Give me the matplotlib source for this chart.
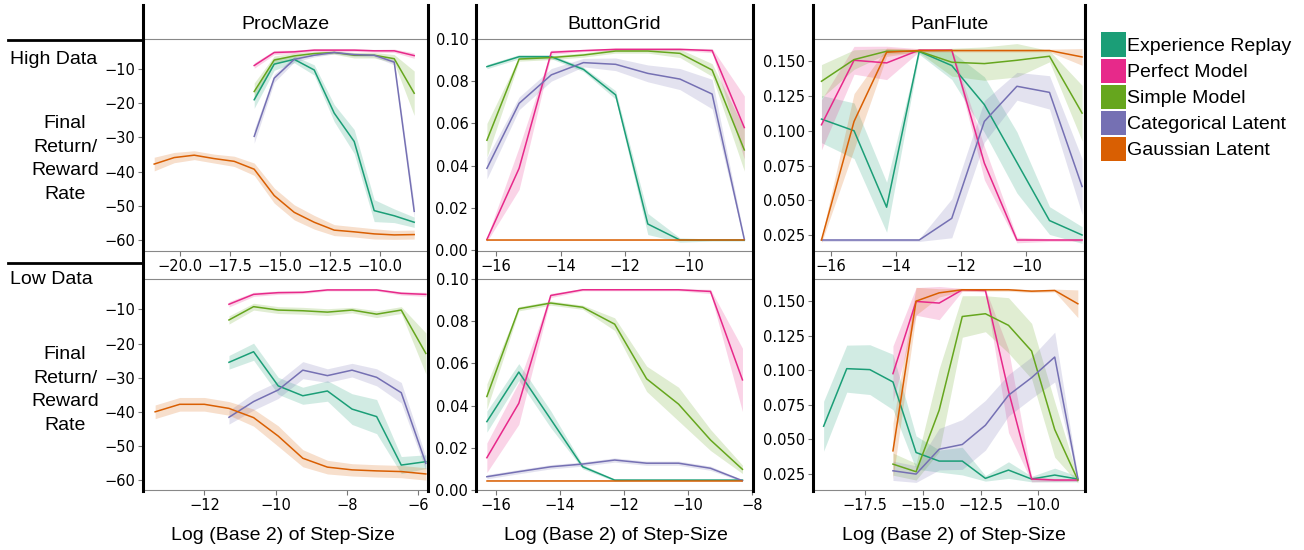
import matplotlib.pyplot as plt
from matplotlib.lines import Line2D
from matplotlib.patches import Patch, Rectangle
from matplotlib.legend_handler import HandlerPatch

# series names and colours (Dark2)
series = ["Experience Replay", "Perfect Model", "Simple Model",
          "Categorical Latent", "Gaussian Latent"]
colors = ["#1b9e77", "#e7298a", "#66a61e", "#7570b3", "#d95f02"]
envs = ["ProcMaze", "ButtonGrid", "PanFlute"]
rows = ["High Data", "Low Data"]

# x positions (log2 of step-size)
x_std = [-16.29, -15.29, -14.29, -13.29, -12.29, -11.29, -10.29, -9.29, -8.29]
x_maze_hi_gl = [-21.29, -20.29, -19.29, -18.29, -17.29, -16.29, -15.29,
                -14.29, -13.29, -12.29, -11.29, -10.29, -9.29, -8.29]
x_maze_lo_gl = [-13.38, -12.69, -12.0, -11.31, -10.62, -9.93, -9.24,
                -8.55, -7.86, -7.17, -6.48, -5.79]
x_maze_lo = [-11.31, -10.62, -9.93, -9.24, -8.55, -7.86, -7.17, -6.48, -5.79]
x_flute_lo_er = [-19.29, -18.29, -17.29, -16.29, -15.29, -14.29, -13.29,
                 -12.29, -11.29, -10.29, -9.29, -8.29]

# ProcMaze, high data
maze_hi_er = [-19.0, -8.6, -7.2, -10.3, -22.9, -31.2, -51.4, -52.9, -54.8]
maze_hi_pm = [-9.0, -5.2, -5.0, -4.5, -4.5, -4.5, -4.7, -4.7, -6.1]
maze_hi_sm = [-16.6, -7.4, -6.2, -5.5, -5.2, -6.0, -6.0, -7.0, -17.1]
maze_hi_cl = [-29.7, -12.7, -7.2, -6.0, -5.2, -5.8, -6.0, -8.0, -51.6]
maze_hi_gl = [-37.8, -35.9, -35.2, -36.2, -37.0, -39.3, -47.0, -51.9,
              -54.8, -57.1, -57.6, -58.2, -58.5, -58.4]
maze_hi_er_ci = [2.5, 1.8, 1.0, 1.5, 2.5, 3.5, 3.2, 2.0, 1.5]
maze_hi_pm_ci = [0.8, 0.6, 0.5, 0.4, 0.4, 0.4, 0.4, 0.5, 0.8]
maze_hi_sm_ci = [2.5, 1.2, 0.8, 0.5, 0.5, 0.8, 0.8, 1.2, 6.5]
maze_hi_cl_ci = [2.0, 1.2, 0.8, 0.5, 0.4, 0.5, 0.5, 0.8, 2.0]
maze_hi_gl_ci = [2.0, 1.5, 1.3, 1.3, 1.5, 1.8, 2.2, 2.2, 2.0, 1.6, 1.5,
                 1.5, 1.3, 1.3]

# ProcMaze, low data
maze_lo_er = [-25.5, -22.4, -32.4, -35.3, -33.9, -39.2, -41.4, -55.6, -54.6]
maze_lo_pm = [-8.5, -5.6, -5.1, -5.0, -4.3, -4.3, -4.3, -5.3, -5.6]
maze_lo_sm = [-13.1, -9.2, -10.2, -10.4, -10.8, -10.2, -11.4, -10.2, -22.9]
maze_lo_cl = [-41.6, -37.0, -33.6, -27.8, -29.4, -27.8, -29.9, -34.4, -55.1]
maze_lo_gl = [-40.0, -37.8, -37.8, -39.0, -41.7, -47.1, -53.6, -56.2,
              -57.0, -57.3, -57.5, -58.2]
maze_lo_er_ci = [2.0, 2.5, 2.5, 2.5, 3.0, 4.5, 5.0, 2.5, 2.0]
maze_lo_pm_ci = [0.8, 0.6, 0.5, 0.4, 0.3, 0.3, 0.3, 0.5, 0.6]
maze_lo_sm_ci = [1.2, 1.0, 1.0, 1.0, 1.0, 0.8, 1.0, 1.0, 6.0]
maze_lo_cl_ci = [2.0, 2.5, 2.5, 2.5, 2.0, 2.0, 2.5, 3.0, 2.0]
maze_lo_gl_ci = [2.0, 2.0, 2.0, 2.0, 2.5, 3.0, 2.5, 2.0, 1.8, 1.8, 1.8, 1.8]

# ButtonGrid, high data
grid_hi_er = [0.0869, 0.0916, 0.0916, 0.0856, 0.0735, 0.0123, 0.0047, 0.0047, 0.0047]
grid_hi_pm = [0.0050, 0.0387, 0.0937, 0.0945, 0.0951, 0.0951, 0.0951, 0.0945, 0.0580]
grid_hi_sm = [0.0520, 0.0905, 0.0912, 0.0924, 0.0943, 0.0943, 0.0932, 0.0853, 0.0474]
grid_hi_cl = [0.0387, 0.0695, 0.0830, 0.0888, 0.0880, 0.0837, 0.0810, 0.0739, 0.0050]
grid_hi_gl = [0.0045] * 9
grid_hi_er_ci = [0.001, 0.001, 0.001, 0.001, 0.002, 0.005, 0.001, 0.0005, 0.0005]
grid_hi_pm_ci = [0.001, 0.010, 0.001, 0.0005, 0.0005, 0.0005, 0.0005, 0.001, 0.015]
grid_hi_sm_ci = [0.008, 0.001, 0.001, 0.001, 0.001, 0.001, 0.002, 0.003, 0.010]
grid_hi_cl_ci = [0.005, 0.003, 0.003, 0.002, 0.003, 0.004, 0.005, 0.007, 0.001]
grid_hi_gl_ci = [0.0003] * 9

# ButtonGrid, low data
grid_lo_er = [0.0324, 0.0559, 0.0335, 0.0110, 0.0047, 0.0047, 0.0047, 0.0047, 0.0047]
grid_lo_pm = [0.0153, 0.0411, 0.0922, 0.0949, 0.0949, 0.0949, 0.0949, 0.0941, 0.0522]
grid_lo_sm = [0.0443, 0.0859, 0.0886, 0.0866, 0.0786, 0.0527, 0.0407, 0.0237, 0.0098]
grid_lo_cl = [0.0063, 0.0087, 0.0110, 0.0123, 0.0142, 0.0127, 0.0127, 0.0103, 0.0044]
grid_lo_gl = [0.0044] * 9
grid_lo_er_ci = [0.005, 0.004, 0.004, 0.001, 0.0005, 0.0003, 0.0003, 0.0003, 0.0003]
grid_lo_pm_ci = [0.007, 0.010, 0.001, 0.0005, 0.0005, 0.0005, 0.0005, 0.001, 0.015]
grid_lo_sm_ci = [0.006, 0.001, 0.001, 0.001, 0.003, 0.006, 0.008, 0.005, 0.002]
grid_lo_cl_ci = [0.001, 0.001, 0.001, 0.001, 0.001, 0.001, 0.001, 0.001, 0.0005]
grid_lo_gl_ci = [0.0003] * 9

# PanFlute, high data
flute_hi_er = [0.1084, 0.1000, 0.0450, 0.1570, 0.1469, 0.1188, 0.0772, 0.0354, 0.0250]
flute_hi_pm = [0.1043, 0.1507, 0.1488, 0.1580, 0.1580, 0.0767, 0.0214, 0.0214, 0.0214]
flute_hi_sm = [0.1356, 0.1512, 0.1572, 0.1572, 0.1493, 0.1483, 0.1507, 0.1536, 0.1127]
flute_hi_cl = [0.0214, 0.0214, 0.0214, 0.0214, 0.0370, 0.1067, 0.1320, 0.1276, 0.0599]
flute_hi_gl = [0.0214, 0.1067, 0.1565, 0.1577, 0.1577, 0.1577, 0.1577, 0.1577, 0.1531]
flute_hi_er_ci = [0.017, 0.020, 0.018, 0.002, 0.010, 0.020, 0.022, 0.010, 0.006]
flute_hi_pm_ci = [0.018, 0.010, 0.012, 0.001, 0.001, 0.012, 0.002, 0.001, 0.001]
flute_hi_sm_ci = [0.012, 0.007, 0.002, 0.001, 0.010, 0.012, 0.012, 0.004, 0.020]
flute_hi_cl_ci = [0.001, 0.001, 0.001, 0.001, 0.014, 0.015, 0.010, 0.012, 0.020]
flute_hi_gl_ci = [0.002, 0.020, 0.003, 0.001, 0.001, 0.001, 0.001, 0.001, 0.006]

# PanFlute, low data
flute_lo_er = [0.0596, 0.1012, 0.1005, 0.0916, 0.0406, 0.0344, 0.0344, 0.0219,
               0.0279, 0.0214, 0.0243, 0.0214]
flute_lo_pm = [0.0976, 0.1498, 0.1486, 0.1582, 0.1577, 0.0850, 0.0214, 0.0207, 0.0207]
flute_lo_sm = [0.0322, 0.0267, 0.0712, 0.1389, 0.1409, 0.1325, 0.1139, 0.0572, 0.0207]
flute_lo_cl = [0.0274, 0.0250, 0.0430, 0.0464, 0.0603, 0.0820, 0.0947, 0.1096, 0.0219]
flute_lo_gl = [0.0418, 0.1500, 0.1560, 0.1582, 0.1582, 0.1582, 0.1572, 0.1577, 0.1481]
flute_lo_er_ci = [0.018, 0.017, 0.018, 0.020, 0.012, 0.008, 0.010, 0.002,
                  0.006, 0.002, 0.005, 0.002]
flute_lo_pm_ci = [0.020, 0.010, 0.012, 0.001, 0.001, 0.030, 0.002, 0.001, 0.001]
flute_lo_sm_ci = [0.008, 0.006, 0.030, 0.015, 0.013, 0.020, 0.020, 0.020, 0.002]
flute_lo_cl_ci = [0.007, 0.006, 0.015, 0.018, 0.018, 0.015, 0.015, 0.018, 0.002]
flute_lo_gl_ci = [0.020, 0.010, 0.003, 0.001, 0.001, 0.001, 0.001, 0.001, 0.010]

# (row, col) -> list of (x, mean, ci) in series order
panels = {
    (0, 0): [(x_std, maze_hi_er, maze_hi_er_ci), (x_std, maze_hi_pm, maze_hi_pm_ci),
             (x_std, maze_hi_sm, maze_hi_sm_ci), (x_std, maze_hi_cl, maze_hi_cl_ci),
             (x_maze_hi_gl, maze_hi_gl, maze_hi_gl_ci)],
    (1, 0): [(x_maze_lo, maze_lo_er, maze_lo_er_ci), (x_maze_lo, maze_lo_pm, maze_lo_pm_ci),
             (x_maze_lo, maze_lo_sm, maze_lo_sm_ci), (x_maze_lo, maze_lo_cl, maze_lo_cl_ci),
             (x_maze_lo_gl, maze_lo_gl, maze_lo_gl_ci)],
    (0, 1): [(x_std, grid_hi_er, grid_hi_er_ci), (x_std, grid_hi_pm, grid_hi_pm_ci),
             (x_std, grid_hi_sm, grid_hi_sm_ci), (x_std, grid_hi_cl, grid_hi_cl_ci),
             (x_std, grid_hi_gl, grid_hi_gl_ci)],
    (1, 1): [(x_std, grid_lo_er, grid_lo_er_ci), (x_std, grid_lo_pm, grid_lo_pm_ci),
             (x_std, grid_lo_sm, grid_lo_sm_ci), (x_std, grid_lo_cl, grid_lo_cl_ci),
             (x_std, grid_lo_gl, grid_lo_gl_ci)],
    (0, 2): [(x_std, flute_hi_er, flute_hi_er_ci), (x_std, flute_hi_pm, flute_hi_pm_ci),
             (x_std, flute_hi_sm, flute_hi_sm_ci), (x_std, flute_hi_cl, flute_hi_cl_ci),
             (x_std, flute_hi_gl, flute_hi_gl_ci)],
    (1, 2): [(x_flute_lo_er, flute_lo_er, flute_lo_er_ci), (x_std, flute_lo_pm, flute_lo_pm_ci),
             (x_std, flute_lo_sm, flute_lo_sm_ci), (x_std, flute_lo_cl, flute_lo_cl_ci),
             (x_std, flute_lo_gl, flute_lo_gl_ci)],
}

xlims = {(0, 0): (-21.85, -7.6), (1, 0): (-13.72, -5.73),
         (0, 1): (-16.63, -8.02), (1, 1): (-16.63, -7.96),
         (0, 2): (-16.55, -8.2), (1, 2): (-19.75, -7.98)}
ylims = {(0, 0): (-63.2, -1.25), (1, 0): (-62.9, -1.1),
         (0, 1): (-0.0005, 0.1), (1, 1): (0.0, 0.1),
         (0, 2): (0.0135, 0.166), (1, 2): (0.0135, 0.166)}
xticks = {(0, 0): [-20, -17.5, -15, -12.5, -10], (1, 0): [-12, -10, -8, -6],
          (0, 1): [-16, -14, -12, -10], (1, 1): [-16, -14, -12, -10, -8],
          (0, 2): [-16, -14, -12, -10], (1, 2): [-17.5, -15, -12.5, -10]}
yticks = {0: [-10, -20, -30, -40, -50, -60],
          1: [0.0, 0.02, 0.04, 0.06, 0.08, 0.10],
          2: [0.025, 0.05, 0.075, 0.1, 0.125, 0.15]}

W, H = 1304, 550
fig = plt.figure(figsize=(W / 100, H / 100), dpi=100)
SANS = "Liberation Sans"

col_px = [(143, 428), (476, 753), (813, 1085)]
row_px = [(39, 251), (279, 490)]

for (r, c), lines in panels.items():
    x0, x1 = col_px[c]
    y0, y1 = row_px[r]
    ax = fig.add_axes([x0 / W, 1 - y1 / H, (x1 - x0) / W, (y1 - y0) / H])
    for (xs, m, ci), col in zip(lines, colors):
        lo = [a - b for a, b in zip(m, ci)]
        hi = [a + b for a, b in zip(m, ci)]
        ax.fill_between(xs, lo, hi, color=col, alpha=0.2, lw=0)
        ax.plot(xs, m, color=col, lw=1.1)
    ax.set_xlim(*xlims[(r, c)])
    ax.set_ylim(*ylims[(r, c)])
    ax.set_xticks(xticks[(r, c)])
    ax.set_yticks(yticks[c])
    ax.tick_params(direction="out", length=3.5, width=0.8, color="#777777",
                   labelsize=10.5, pad=2)
    for s in ["left", "right"]:
        ax.spines[s].set_visible(False)
    for s in ["top", "bottom"]:
        ax.spines[s].set_color("#888888")
        ax.spines[s].set_linewidth(0.8)
    if r == 0:
        ax.set_title(envs[c], fontsize=14, family=SANS, pad=7)

# thick separators
for xa, xb in col_px:
    for xp in (xa, xb):
        fig.add_artist(Line2D([xp / W, xp / W], [1 - 5 / H, 1 - 491 / H],
                              color="black", lw=2.2, transform=fig.transFigure))
for yp in (40, 263):
    fig.add_artist(Line2D([8 / W, 143 / W], [1 - yp / H, 1 - yp / H],
                          color="black", lw=2.0, transform=fig.transFigure))

# row headers and y labels
fig.text(10 / W, 1 - 59 / H, rows[0], fontsize=14, family=SANS, va="center")
fig.text(10 / W, 1 - 280 / H, rows[1], fontsize=14, family=SANS, va="center")
for yc in (159, 390):
    fig.text(65 / W, 1 - yc / H, "Final\nReturn/\nReward\nRate", fontsize=14,
             family=SANS, ha="center", va="center", linespacing=1.52)

for xc in (283, 616, 954):
    fig.text(xc / W, 1 - 535 / H, "Log (Base 2) of Step-Size", fontsize=14,
             family=SANS, ha="center", va="center")


# slightly taller square swatches in the legend
def swatch(legend, orig_handle, xdescent, ydescent, width, height, fontsize):
    return Rectangle((-xdescent, -ydescent - 1.1), width, height + 2.2)


handles = [Patch(facecolor=col, edgecolor="none") for col in colors]
fig.legend(handles, series, loc="upper left", bbox_to_anchor=(1101 / W, 1 - 34 / H),
           frameon=False, prop={"family": SANS, "size": 14}, handlelength=1.27,
           handleheight=1.3, handletextpad=0.05, labelspacing=0.25,
           borderpad=0, borderaxespad=0,
           handler_map={Patch: HandlerPatch(patch_func=swatch)})

fig.savefig("out.png", dpi=100)
